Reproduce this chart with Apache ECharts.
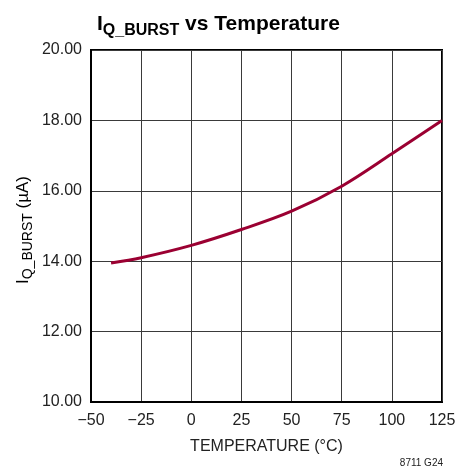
<!DOCTYPE html>
<html>
<head>
<meta charset="utf-8">
<script src="https://cdn.jsdelivr.net/npm/echarts@6/dist/echarts.min.js"></script>
<style>
html,body{margin:0;padding:0;background:#fff;}
#chart{width:473px;height:473px;}
</style>
</head>
<body>
<div id="chart"></div>
<script>
// Data
const temperatures = [-40, -25, 0, 25, 50, 75, 100, 125];
const iqBurst = [13.95, 14.10, 14.45, 14.90, 15.42, 16.13, 17.05, 18.00];
const xTicks = [-50, -25, 0, 25, 50, 75, 100, 125];
const yTicks = [10, 12, 14, 16, 18, 20];

const FONT = "'Liberation Sans', Arial, sans-serif";
const chart = echarts.init(document.getElementById('chart'), null, {renderer: 'canvas'});

chart.setOption({
  animation: false,
  backgroundColor: '#fff',
  title: {
    left: 92,
    top: 9,
    text: '{a|I}{b|Q_BURST}{a| vs Temperature}',
    textStyle: {
      fontFamily: FONT,
      rich: {
        a: {fontFamily: FONT, fontSize: 21, fontWeight: 'bold', color: '#000', lineHeight: 21, verticalAlign: 'top'},
        b: {fontFamily: FONT, fontSize: 16, fontWeight: 'bold', color: '#000', lineHeight: 33}
      }
    }
  },
  grid: {
    left: 91, right: 31, top: 50, bottom: 71,
    show: true, borderColor: '#000', borderWidth: 2, backgroundColor: 'transparent'
  },
  xAxis: {
    type: 'value',
    min: xTicks[0], max: xTicks[xTicks.length - 1], interval: 25,
    name: 'TEMPERATURE (°C)',
    nameLocation: 'middle',
    nameGap: 37,
    nameTextStyle: {fontFamily: FONT, fontSize: 16, color: '#222'},
    axisLine: {show: true, onZero: false, lineStyle: {color: '#000', width: 2}},
    axisTick: {show: false},
    splitLine: {show: true, lineStyle: {color: '#3a3a3a', width: 1}},
    axisLabel: {
      fontFamily: FONT, fontSize: 16, color: '#222', margin: 11,
      formatter: v => String(v).replace('-', '\u2212')
    }
  },
  yAxis: {
    type: 'value',
    min: yTicks[0], max: yTicks[yTicks.length - 1], interval: 2,
    axisLine: {show: true, onZero: false, lineStyle: {color: '#000', width: 2}},
    axisTick: {show: false},
    splitLine: {show: true, lineStyle: {color: '#3a3a3a', width: 1}},
    axisLabel: {
      fontFamily: FONT, fontSize: 16, color: '#222', margin: 9,
      formatter: v => v.toFixed(2)
    }
  },
  graphic: [
    {
      type: 'text',
      x: 28, y: 230,
      rotation: Math.PI / 2,
      style: {
        text: '{a|I}{b|Q_BURST}{a| (µA)}',
        align: 'center',
        verticalAlign: 'middle',
        rich: {
          a: {fontFamily: FONT, fontSize: 17, color: '#222', lineHeight: 17, verticalAlign: 'top'},
          b: {fontFamily: FONT, fontSize: 14, color: '#222', lineHeight: 26}
        }
      }
    },
    {
      type: 'text',
      right: 30, top: 458,
      style: {text: '8711 G24', fontFamily: FONT, fontSize: 10, fill: '#222'}
    }
  ],
  series: [{
    type: 'line',
    data: temperatures.map((t, i) => [t, iqBurst[i]]),
    smooth: 0.35,
    symbol: 'none',
    lineStyle: {color: '#9b0032', width: 3},
    clip: false
  }]
});
</script>
</body>
</html>
